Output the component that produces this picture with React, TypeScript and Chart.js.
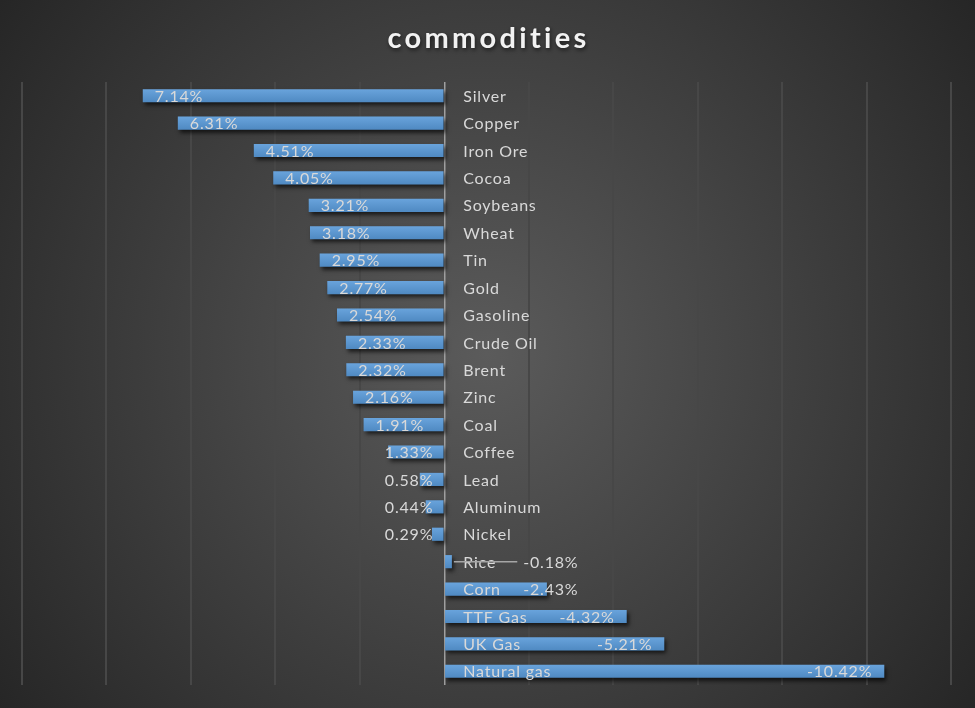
import React, { useEffect, useRef } from 'react';
import { Chart, registerables } from 'chart.js';

Chart.register(...registerables);

const chartTitle = 'commodities';
const categories = [
  'Silver', 'Copper', 'Iron Ore', 'Cocoa', 'Soybeans', 'Wheat', 'Tin', 'Gold',
  'Gasoline', 'Crude Oil', 'Brent', 'Zinc', 'Coal', 'Coffee', 'Lead', 'Aluminum',
  'Nickel', 'Rice', 'Corn', 'TTF Gas', 'UK Gas', 'Natural gas',
];
const changes = [
  7.14, 6.31, 4.51, 4.05, 3.21, 3.18, 2.95, 2.77,
  2.54, 2.33, 2.32, 2.16, 1.91, 1.33, 0.58, 0.44,
  0.29, -0.18, -2.43, -4.32, -5.21, -10.42,
];
const axisMin = -12;
const axisMax = 10;
const axisStep = 2;

const W = 975;
const H = 708;

const decorPlugin = {
  id: 'decor',
  beforeDraw(chart: any) {
    const { ctx, width, height } = chart;
    const cx = width / 2;
    const cy = height / 2;
    const g = ctx.createRadialGradient(cx, cy, 0, cx, cy, Math.hypot(cx, cy));
    g.addColorStop(0, '#5b5b5b');
    g.addColorStop(1, '#262626');
    ctx.save();
    ctx.fillStyle = g;
    ctx.fillRect(0, 0, width, height);
    // title
    ctx.font = 'bold 29px Lato';
    (ctx as any).letterSpacing = '3.3px';
    ctx.textAlign = 'center';
    ctx.textBaseline = 'alphabetic';
    ctx.shadowColor = 'rgba(0,0,0,0.6)';
    ctx.shadowBlur = 4;
    ctx.shadowOffsetX = 1;
    ctx.shadowOffsetY = 2;
    ctx.fillStyle = '#f2f2f2';
    ctx.fillText(chartTitle, width / 2 + 1, 48);
    ctx.restore();
  },
  beforeDatasetsDraw(chart: any) {
    const ctx = chart.ctx;
    ctx.save();
    ctx.shadowColor = 'rgba(0,0,0,0.65)';
    ctx.shadowBlur = 4;
    ctx.shadowOffsetX = 2;
    ctx.shadowOffsetY = 3;
  },
  afterDatasetsDraw(chart: any) {
    const ctx = chart.ctx;
    ctx.restore();
    const meta = chart.getDatasetMeta(0);
    const xScale = chart.scales.x;
    const yScale = chart.scales.y;
    const zeroX = xScale.getPixelForValue(0);
    ctx.save();
    // bar sheen
    meta.data.forEach((el: any) => {
      const p = el.getProps(['x', 'y', 'base', 'height'], true);
      const left = Math.min(p.x, p.base);
      const w = Math.abs(p.x - p.base);
      const top = p.y - p.height / 2;
      const g = ctx.createLinearGradient(0, top, 0, top + p.height);
      g.addColorStop(0, 'rgba(255,255,255,0.10)');
      g.addColorStop(1, 'rgba(0,0,0,0.10)');
      ctx.fillStyle = g;
      ctx.fillRect(left, top, w, p.height);
    });
    // category labels
    ctx.font = '16px Lato';
    (ctx as any).letterSpacing = '0.8px';
    ctx.textAlign = 'left';
    ctx.textBaseline = 'middle';
    ctx.fillStyle = '#d9d9d9';
    categories.forEach((c, i) => {
      ctx.fillText(c, zeroX + 19, yScale.getPixelForValue(i) + 1);
    });
    // value labels
    ctx.font = '16px Lato';
    (ctx as any).letterSpacing = '0.8px';
    meta.data.forEach((el: any, i: number) => {
      const v = changes[i];
      const txt = v.toFixed(2) + '%';
      const w = ctx.measureText(txt).width;
      const p = el.getProps(['x', 'y'], true);
      let left: number;
      if (v >= 0) {
        left = p.x + 12;
        if (left + w > zeroX - 11) left = zeroX - 11 - w;
      } else {
        left = p.x - 12 - w;
        if (left < zeroX + 79) {
          left = zeroX + 79;
          if (left - 6 > p.x + 10) {
            ctx.strokeStyle = '#a6a6a6';
            ctx.lineWidth = 1.5;
            ctx.beginPath();
            ctx.moveTo(p.x + 2, p.y);
            ctx.lineTo(left - 6, p.y);
            ctx.stroke();
          }
        }
      }
      ctx.fillStyle = '#d9d9d9';
      ctx.fillText(txt, left, p.y + 1);
    });
    ctx.restore();
  },
};

export default function App() {
  const ref = useRef<HTMLCanvasElement | null>(null);
  useEffect(() => {
    if (!ref.current) return;
    const chart = new Chart(ref.current, {
      type: 'bar',
      data: {
        labels: categories,
        datasets: [
          {
            data: changes,
            backgroundColor: '#5899d8',
            barPercentage: 0.48,
            categoryPercentage: 1,
          },
        ],
      },
      options: {
        indexAxis: 'y',
        responsive: false,
        animation: false,
        layout: { padding: { left: 22, right: 24, top: 82, bottom: 23 } },
        plugins: {
          legend: { display: false },
          tooltip: { enabled: false },
          title: { display: false },
        },
        scales: {
          x: {
            min: axisMin,
            max: axisMax,
            reverse: true,
            ticks: { display: false, stepSize: axisStep },
            grid: {
              drawTicks: false,
              color: (c: any) => (c.tick && c.tick.value === 0 ? '#a0a0a0' : '#474747'),
              lineWidth: (c: any) => (c.tick && c.tick.value === 0 ? 1.5 : 2),
            },
            border: { display: false },
          },
          y: { display: false },
        },
      },
      plugins: [decorPlugin],
    });
    return () => chart.destroy();
  }, []);
  return (
    <div style={{ position: 'fixed', left: 0, top: 0, width: W, height: H }}>
      <canvas ref={ref} width={W} height={H} style={{ width: W, height: H, display: 'block' }} />
    </div>
  );
}
